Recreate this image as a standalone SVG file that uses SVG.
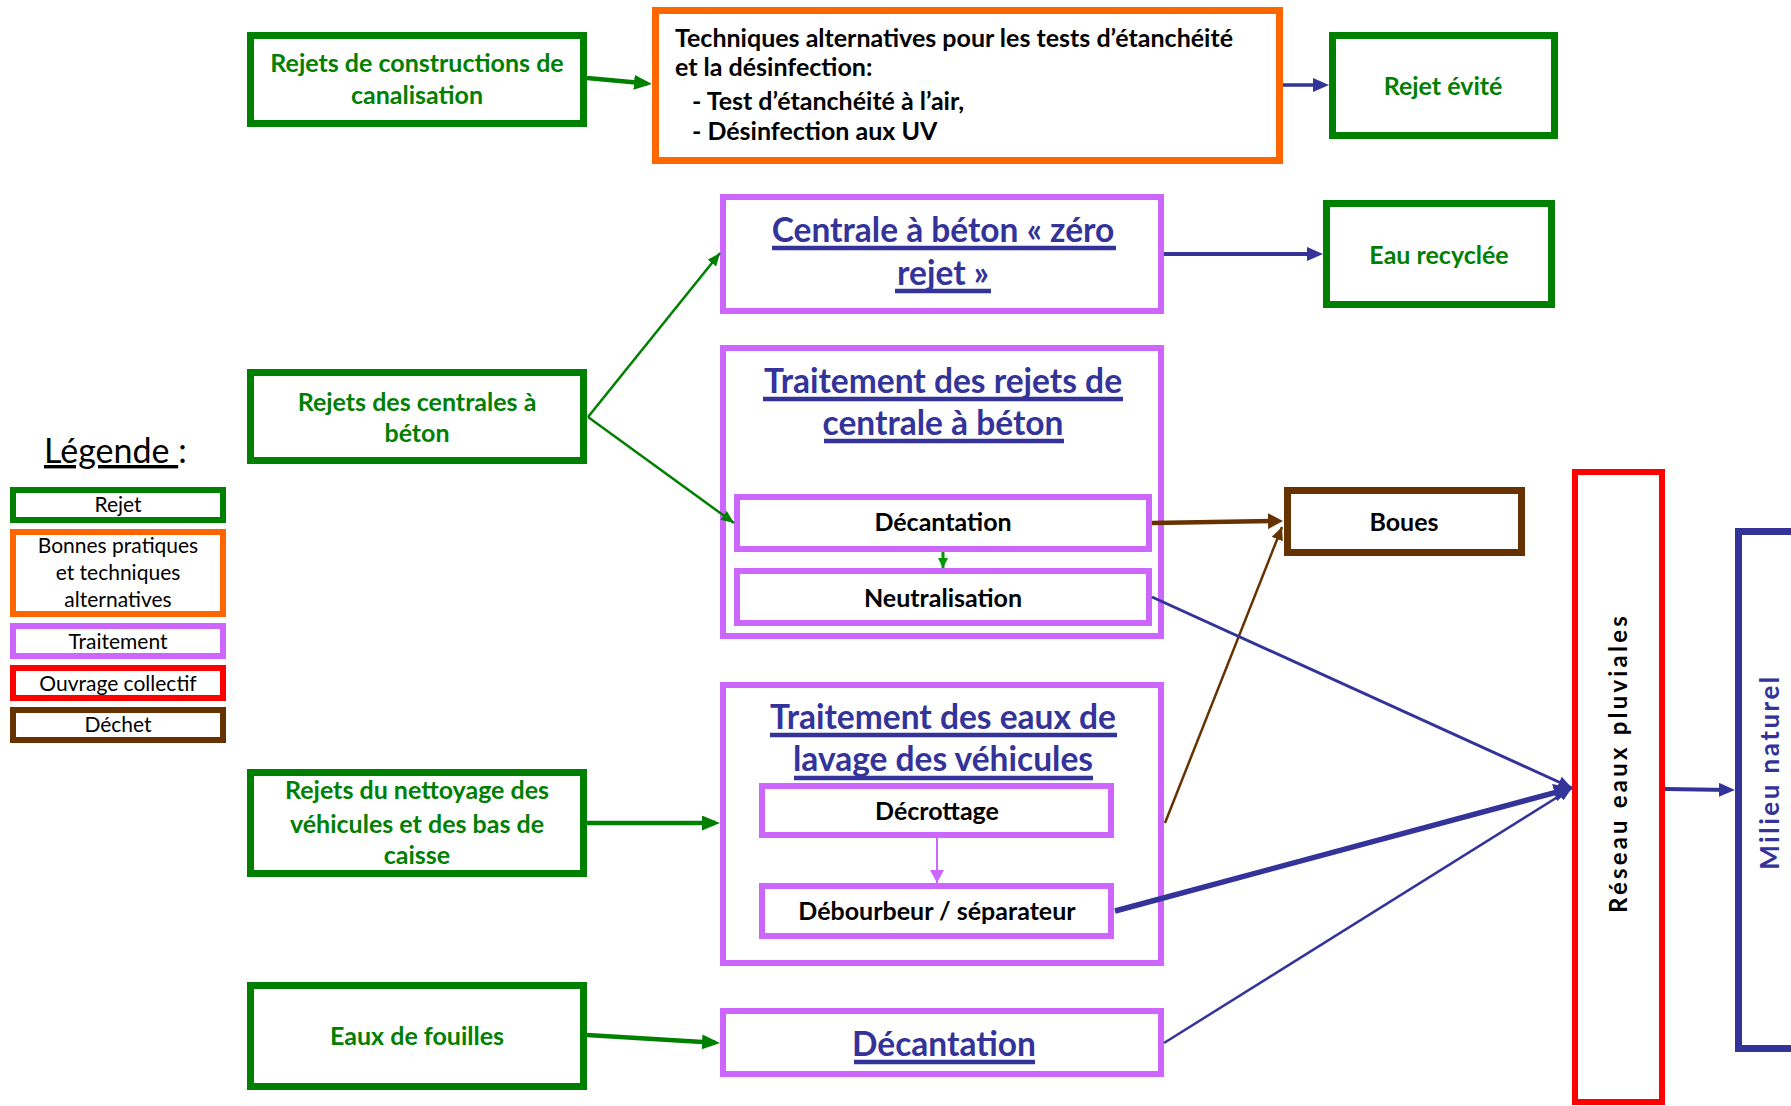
<svg xmlns="http://www.w3.org/2000/svg" width="1791" height="1106" viewBox="0 0 1791 1106">
<style>
  .bg{fill:#fff}
  .bx{fill:#fff}
  .gr{stroke:#008000;stroke-width:7}
  .or{stroke:#ff6600;stroke-width:7}
  .pu{stroke:#cc66ff;stroke-width:6}
  .br{stroke:#663300;stroke-width:7}
  .rd{stroke:#ff0000;stroke-width:6}
  .bl{stroke:#333399;stroke-width:7}
  .lg{stroke-width:6}
  .ul{stroke:#333399;stroke-width:4.5}
  text{font-family:Lato,"Liberation Sans",sans-serif}
  .tg{font-size:25px;font-weight:700;fill:#008000;text-anchor:middle}
  .tk{font-size:25px;font-weight:700;fill:#000}
  .tkc{font-size:25px;font-weight:700;fill:#000;text-anchor:middle}
  .tt{font-size:33.5px;font-weight:700;fill:#333399;text-anchor:middle}
  .tl{font-size:21px;fill:#000;text-anchor:middle}
  .tv{font-size:24px;font-weight:700;text-anchor:middle;letter-spacing:3.2px}
  .c{fill:none;stroke-linecap:butt}
</style>
<defs>
  <marker id="aG" markerUnits="userSpaceOnUse" markerWidth="18" markerHeight="15" refX="13" refY="7.5" orient="auto"><path d="M0,0 L18,7.5 L0,15 z" fill="#008000"/></marker>
  <marker id="aGs" markerUnits="userSpaceOnUse" markerWidth="13" markerHeight="11" refX="13" refY="5.5" orient="auto"><path d="M0,0 L13,5.5 L0,11 z" fill="#008000"/></marker>
  <marker id="aGg" markerUnits="userSpaceOnUse" markerWidth="10" markerHeight="10" refX="10" refY="5" orient="auto"><path d="M0,0 L10,5 L0,10 z" fill="#009900"/></marker>
  <marker id="aB" markerUnits="userSpaceOnUse" markerWidth="16" markerHeight="14" refX="11" refY="7" orient="auto"><path d="M0,0 L16,7 L0,14 z" fill="#333399"/></marker>
  <marker id="aBL" markerUnits="userSpaceOnUse" markerWidth="18" markerHeight="18" refX="13" refY="9" orient="auto"><path d="M0,0 L18,9 L0,18 z" fill="#333399"/></marker>
  <marker id="aBs" markerUnits="userSpaceOnUse" markerWidth="14" markerHeight="12" refX="14" refY="6" orient="auto"><path d="M0,0 L14,6 L0,12 z" fill="#333399"/></marker>
  <marker id="aBr" markerUnits="userSpaceOnUse" markerWidth="15" markerHeight="16" refX="10" refY="8" orient="auto"><path d="M0,0 L15,8 L0,16 z" fill="#663300"/></marker>
  <marker id="aBrs" markerUnits="userSpaceOnUse" markerWidth="13" markerHeight="12" refX="13" refY="6" orient="auto"><path d="M0,0 L13,6 L0,12 z" fill="#663300"/></marker>
  <marker id="aP" markerUnits="userSpaceOnUse" markerWidth="13" markerHeight="14" refX="13" refY="7" orient="auto"><path d="M0,0 L13,7 L0,14 z" fill="#cc66ff"/></marker>
</defs>
<rect class="bg" x="0" y="0" width="1791" height="1106"/>

<!-- Legend -->
<g id="legende">
  <text x="44" y="463" style="font-size:34px;fill:#000"><tspan style="text-decoration:underline">Légende </tspan>:</text>
  <rect class="bx gr lg" x="13" y="490" width="210" height="30"/>
  <text class="tl" x="118" y="512">Rejet</text>
  <rect class="bx or lg" x="13" y="532" width="210" height="82"/>
  <text class="tl" x="118" y="553">Bonnes pratiques</text>
  <text class="tl" x="118" y="580">et techniques</text>
  <text class="tl" x="118" y="607">alternatives</text>
  <rect class="bx pu lg" x="13" y="626" width="210" height="30"/>
  <text class="tl" x="118" y="649">Traitement</text>
  <rect class="bx rd lg" x="13" y="668" width="210" height="30"/>
  <text class="tl" x="118" y="691">Ouvrage collectif</text>
  <rect class="bx br lg" x="13" y="710" width="210" height="30"/>
  <text class="tl" x="118" y="732">Déchet</text>
</g>

<!-- Nodes -->
<g id="rejets-canalisation">
  <rect class="bx gr" x="250.5" y="35.5" width="333" height="88"/>
  <text class="tg" x="417" y="72">Rejets de constructions de</text>
  <text class="tg" x="417" y="104">canalisation</text>
</g>
<g id="techniques-alternatives">
  <rect class="bx or" x="655.5" y="10.5" width="624" height="150"/>
  <text class="tk" x="675" y="47">Techniques alternatives pour les tests d’étanchéité</text>
  <text class="tk" x="675" y="76">et la désinfection:</text>
  <text class="tk" x="692" y="110">- Test d’étanchéité à l’air,</text>
  <text class="tk" x="692" y="140">- Désinfection aux UV</text>
</g>
<g id="rejet-evite">
  <rect class="bx gr" x="1332.5" y="35.5" width="222" height="100"/>
  <text class="tg" x="1443" y="95">Rejet évité</text>
</g>
<g id="centrale-zero-rejet">
  <rect class="bx pu" x="723" y="197" width="438" height="114"/>
  <text class="tt" x="943" y="242">Centrale à béton « zéro</text>
  <line class="ul" x1="772" y1="248" x2="1116" y2="248"/>
  <text class="tt" x="943" y="285">rejet »</text>
  <line class="ul" x1="895" y1="291" x2="991" y2="291"/>
</g>
<g id="eau-recyclee">
  <rect class="bx gr" x="1326.5" y="203.5" width="225" height="101"/>
  <text class="tg" x="1439" y="264">Eau recyclée</text>
</g>
<g id="rejets-centrales">
  <rect class="bx gr" x="250.5" y="372.5" width="333" height="88"/>
  <text class="tg" x="417" y="411">Rejets des centrales à</text>
  <text class="tg" x="417" y="442">béton</text>
</g>
<g id="traitement-rejets-centrale">
  <rect class="bx pu" x="723" y="348" width="438" height="288"/>
  <text class="tt" x="943" y="393">Traitement des rejets de</text>
  <line class="ul" x1="763" y1="399" x2="1123" y2="399"/>
  <text class="tt" x="943" y="435">centrale à béton</text>
  <line class="ul" x1="824" y1="441" x2="1064" y2="441"/>
</g>
<g id="decantation-centrale">
  <rect class="bx pu" x="737" y="497" width="412" height="52"/>
  <text class="tkc" x="943" y="531">Décantation</text>
</g>
<g id="neutralisation">
  <rect class="bx pu" x="737" y="571" width="412" height="52"/>
  <text class="tkc" x="943" y="607">Neutralisation</text>
</g>
<g id="boues">
  <rect class="bx br" x="1287.5" y="490.5" width="234" height="62"/>
  <text class="tkc" x="1404" y="531">Boues</text>
</g>
<g id="reseau-eaux-pluviales">
  <rect class="bx rd" x="1575" y="472" width="87" height="630"/>
  <text class="tv" x="1627" y="763" fill="#000" transform="rotate(-90 1627 763)">Réseau eaux pluviales</text>
</g>
<g id="milieu-naturel">
  <rect class="bx bl" x="1738.5" y="531.5" width="100" height="517"/>
  <text class="tv" x="1779" y="772" fill="#333399" style="font-size:26px;letter-spacing:2.5px" transform="rotate(-90 1779 772)">Milieu naturel</text>
</g>
<g id="traitement-eaux-lavage">
  <rect class="bx pu" x="723" y="685" width="438" height="278"/>
  <text class="tt" x="943" y="729">Traitement des eaux de</text>
  <line class="ul" x1="770" y1="735" x2="1117" y2="735"/>
  <text class="tt" x="943" y="771">lavage des véhicules</text>
  <line class="ul" x1="794" y1="778" x2="1093" y2="778"/>
</g>
<g id="decrottage">
  <rect class="bx pu" x="762" y="786" width="349" height="49"/>
  <text class="tkc" x="937" y="820">Décrottage</text>
</g>
<g id="debourbeur-separateur">
  <rect class="bx pu" x="762" y="886" width="349" height="50"/>
  <text class="tkc" x="937" y="920">Débourbeur / séparateur</text>
</g>
<g id="rejets-nettoyage">
  <rect class="bx gr" x="250.5" y="772.5" width="333" height="101"/>
  <text class="tg" x="417" y="799">Rejets du nettoyage des</text>
  <text class="tg" x="417" y="833">véhicules et des bas de</text>
  <text class="tg" x="417" y="864">caisse</text>
</g>
<g id="eaux-de-fouilles">
  <rect class="bx gr" x="250.5" y="985.5" width="333" height="101"/>
  <text class="tg" x="417" y="1045">Eaux de fouilles</text>
</g>
<g id="decantation-fouilles">
  <rect class="bx pu" x="723" y="1011" width="438" height="63"/>
  <text class="tt" x="944" y="1056">Décantation</text>
  <line class="ul" x1="854" y1="1062" x2="1035" y2="1062"/>
</g>

<!-- Connectors -->
<g id="connectors">
  <line class="c" x1="587" y1="78" x2="647" y2="83.5" stroke="#008000" stroke-width="4.5" marker-end="url(#aG)"/>
  <line class="c" x1="1283" y1="85" x2="1324" y2="85" stroke="#333399" stroke-width="3.5" marker-end="url(#aB)"/>
  <line class="c" x1="1164" y1="254" x2="1318" y2="254" stroke="#333399" stroke-width="4" marker-end="url(#aB)"/>
  <line class="c" x1="588" y1="417" x2="720" y2="253" stroke="#008000" stroke-width="2.5" marker-end="url(#aGs)"/>
  <line class="c" x1="588" y1="417" x2="734" y2="523" stroke="#008000" stroke-width="2.5" marker-end="url(#aGs)"/>
  <line class="c" x1="943" y1="552" x2="943" y2="568" stroke="#009900" stroke-width="3" marker-end="url(#aGg)"/>
  <line class="c" x1="1152" y1="523" x2="1278" y2="521" stroke="#663300" stroke-width="4.5" marker-end="url(#aBr)"/>
  <line class="c" x1="1165" y1="823" x2="1282" y2="527" stroke="#663300" stroke-width="2.5" marker-end="url(#aBrs)"/>
  <line class="c" x1="1152" y1="597" x2="1572" y2="788" stroke="#333399" stroke-width="3" marker-end="url(#aBs)"/>
  <line class="c" x1="1164" y1="1043" x2="1572" y2="788" stroke="#333399" stroke-width="2.5" marker-end="url(#aBs)"/>
  <line class="c" x1="1115" y1="911" x2="1567" y2="789.3" stroke="#333399" stroke-width="5.5" marker-end="url(#aBL)"/>
  <line class="c" x1="1665" y1="789" x2="1730" y2="790" stroke="#333399" stroke-width="4" marker-end="url(#aB)"/>
  <line class="c" x1="587" y1="823" x2="715" y2="823" stroke="#008000" stroke-width="4.5" marker-end="url(#aG)"/>
  <line class="c" x1="587" y1="1035" x2="715" y2="1042.7" stroke="#008000" stroke-width="4.5" marker-end="url(#aG)"/>
  <line class="c" x1="937" y1="838" x2="937" y2="883" stroke="#cc66ff" stroke-width="2" marker-end="url(#aP)"/>
</g>
</svg>
